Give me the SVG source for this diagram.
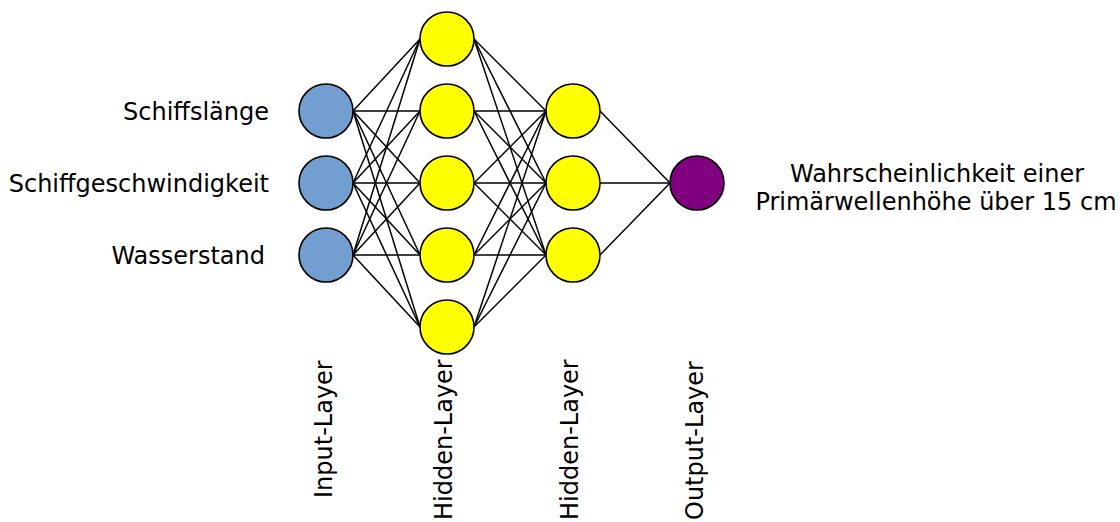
<svg xmlns="http://www.w3.org/2000/svg" width="1120" height="522" viewBox="0 0 1120 522">
<style>
.n{stroke:#000;stroke-width:1.6}
.in{fill:#729fcf}
.hd{fill:#ffff00}
.out{fill:#800080}
.c line{stroke:#000;stroke-width:1.5}
text{font-family:"DejaVu Sans",sans-serif;font-size:24px;fill:#000}
</style>
<g id="connectors" class="c">
<line x1="353" y1="111" x2="420" y2="39"/><line x1="353" y1="111" x2="420" y2="111"/><line x1="353" y1="111" x2="420" y2="183"/><line x1="353" y1="111" x2="420" y2="255"/><line x1="353" y1="111" x2="420" y2="327"/>
<line x1="353" y1="183" x2="420" y2="39"/><line x1="353" y1="183" x2="420" y2="111"/><line x1="353" y1="183" x2="420" y2="183"/><line x1="353" y1="183" x2="420" y2="255"/><line x1="353" y1="183" x2="420" y2="327"/>
<line x1="353" y1="255" x2="420" y2="39"/><line x1="353" y1="255" x2="420" y2="111"/><line x1="353" y1="255" x2="420" y2="183"/><line x1="353" y1="255" x2="420" y2="255"/><line x1="353" y1="255" x2="420" y2="327"/>
<line x1="474" y1="39" x2="546" y2="111"/><line x1="474" y1="39" x2="546" y2="183"/><line x1="474" y1="39" x2="546" y2="255"/>
<line x1="474" y1="111" x2="546" y2="111"/><line x1="474" y1="111" x2="546" y2="183"/><line x1="474" y1="111" x2="546" y2="255"/>
<line x1="474" y1="183" x2="546" y2="111"/><line x1="474" y1="183" x2="546" y2="183"/><line x1="474" y1="183" x2="546" y2="255"/>
<line x1="474" y1="255" x2="546" y2="111"/><line x1="474" y1="255" x2="546" y2="183"/><line x1="474" y1="255" x2="546" y2="255"/>
<line x1="474" y1="327" x2="546" y2="111"/><line x1="474" y1="327" x2="546" y2="183"/><line x1="474" y1="327" x2="546" y2="255"/>
<line x1="600" y1="111" x2="670" y2="183"/><line x1="600" y1="183" x2="670" y2="183"/><line x1="600" y1="255" x2="670" y2="183"/>
</g>
<g id="in1"><circle class="n in" cx="326" cy="111" r="27"/></g>
<g id="in2"><circle class="n in" cx="326" cy="183" r="27"/></g>
<g id="in3"><circle class="n in" cx="326" cy="255" r="27"/></g>
<g id="h1a"><circle class="n hd" cx="447" cy="39" r="27"/></g>
<g id="h1b"><circle class="n hd" cx="447" cy="111" r="27"/></g>
<g id="h1c"><circle class="n hd" cx="447" cy="183" r="27"/></g>
<g id="h1d"><circle class="n hd" cx="447" cy="255" r="27"/></g>
<g id="h1e"><circle class="n hd" cx="447" cy="327" r="27"/></g>
<g id="h2a"><circle class="n hd" cx="573" cy="111" r="27"/></g>
<g id="h2b"><circle class="n hd" cx="573" cy="183" r="27"/></g>
<g id="h2c"><circle class="n hd" cx="573" cy="255" r="27"/></g>
<g id="out"><circle class="n out" cx="697" cy="183" r="27"/></g>
<g id="labels">
<text x="269" y="120" text-anchor="end">Schiffslänge</text>
<text x="269" y="192" text-anchor="end">Schiffgeschwindigkeit</text>
<text x="265" y="264" text-anchor="end">Wasserstand</text>
<text x="937" y="182" text-anchor="middle">Wahrscheinlichkeit einer</text>
<text x="936" y="210" text-anchor="middle">Primärwellenhöhe über 15 cm</text>
<text transform="translate(332,498) rotate(-90)">Input-Layer</text>
<text transform="translate(452,520) rotate(-90)">Hidden-Layer</text>
<text transform="translate(578,520) rotate(-90)">Hidden-Layer</text>
<text transform="translate(703,520) rotate(-90)">Output-Layer</text>
</g>
</svg>
